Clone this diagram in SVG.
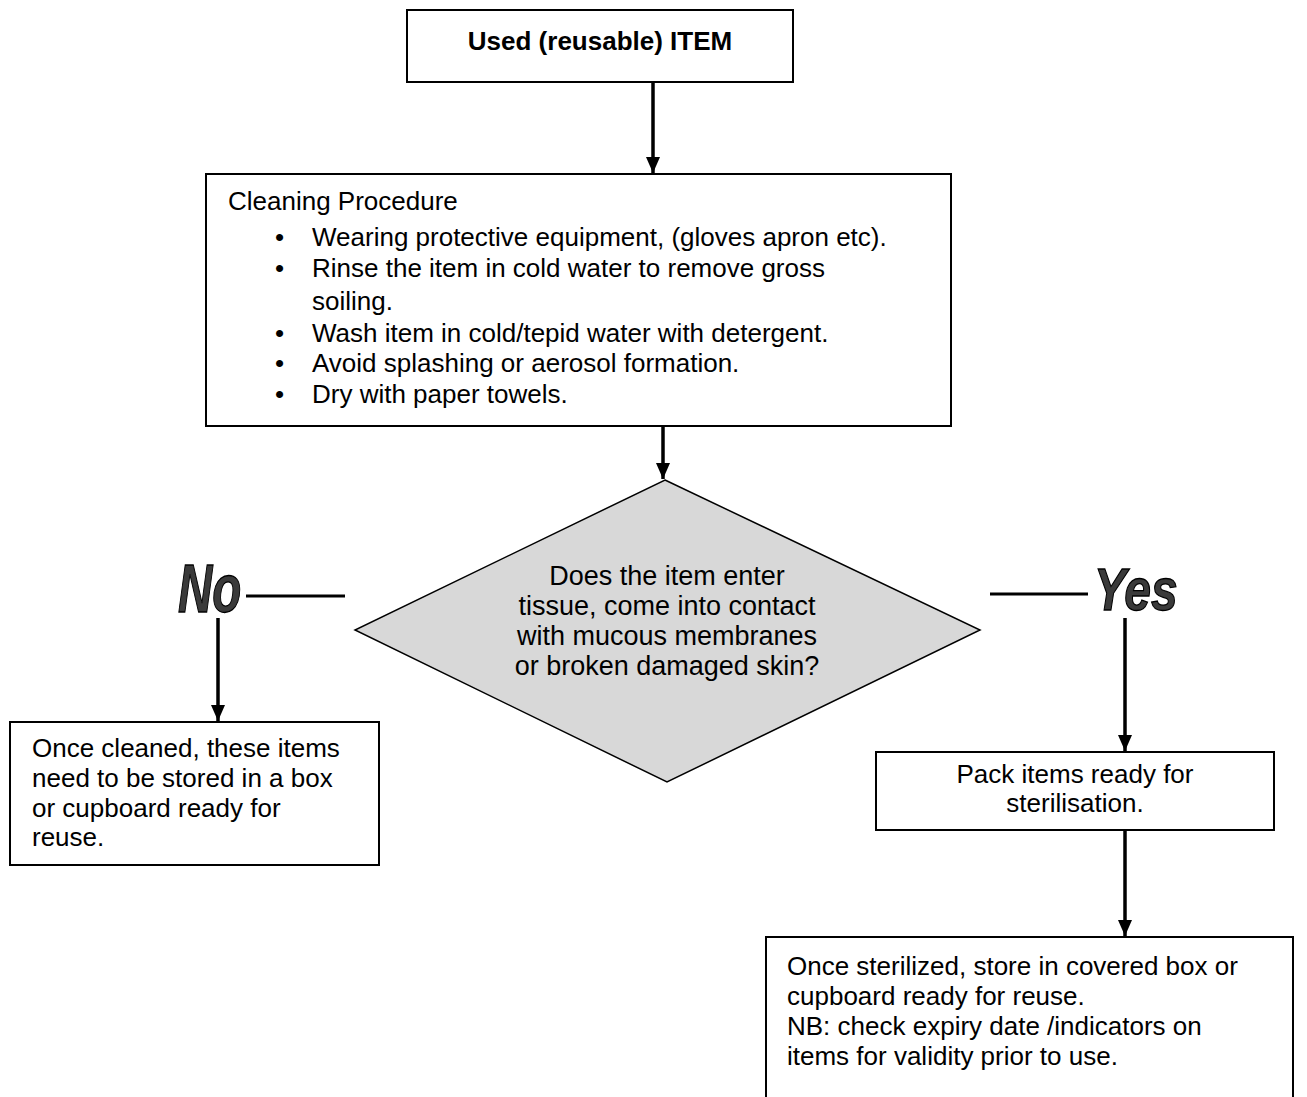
<svg xmlns="http://www.w3.org/2000/svg" width="1307" height="1097" viewBox="0 0 1307 1097">
  <defs>
    <style>
      .box { fill: #ffffff; stroke: #000000; stroke-width: 2; }
      .decision { fill: #d8d8d8; stroke: #000000; stroke-width: 1.5; }
      .txt { font-family: "Liberation Sans", Arial, sans-serif; font-size: 26px; fill: #000000; }
      .bold { font-weight: bold; }
      .mid { text-anchor: middle; }
      .q { font-size: 27px; }
      .flow { stroke: #000000; stroke-width: 3.5; fill: none; }
      .bar { stroke: #000000; stroke-width: 3; fill: none; }
      .answer { font-family: "Liberation Sans", Arial, sans-serif; font-weight: bold; font-style: italic; fill: #3a3a3a; stroke: #000000; stroke-width: 1.3; }
    </style>
    <marker id="arrow" viewBox="0 0 16 14" refX="16" refY="7" markerWidth="16" markerHeight="14" markerUnits="userSpaceOnUse" orient="auto">
      <path d="M0,0 L16,7 L0,14 z" fill="#000000"/>
    </marker>
  </defs>

  <rect width="1307" height="1097" fill="#ffffff"/>

  <!-- connectors -->
  <g id="connectors">
    <line class="flow" x1="653" y1="82" x2="653" y2="173" marker-end="url(#arrow)"/>
    <line class="flow" x1="663" y1="426" x2="663" y2="479" marker-end="url(#arrow)"/>
    <line class="bar" x1="246" y1="596" x2="345" y2="596"/>
    <line class="flow" x1="218" y1="618" x2="218" y2="721" marker-end="url(#arrow)"/>
    <line class="bar" x1="990" y1="594" x2="1088" y2="594"/>
    <line class="flow" x1="1125" y1="618" x2="1125" y2="751" marker-end="url(#arrow)"/>
    <line class="flow" x1="1125" y1="830" x2="1125" y2="936" marker-end="url(#arrow)"/>
  </g>

  <!-- start item -->
  <g id="node-used-item">
    <rect class="box" x="407" y="10" width="386" height="72"/>
    <text class="txt bold mid" x="600" y="50">Used (reusable) ITEM</text>
  </g>

  <!-- cleaning steps -->
  <g id="node-cleaning">
    <rect class="box" x="206" y="174" width="745" height="252"/>
    <text class="txt" x="228" y="210">Cleaning Procedure</text>
    <g class="txt">
      <text x="275" y="246">•</text>
      <text x="312" y="246">Wearing protective equipment, (gloves apron etc).</text>
      <text x="275" y="277">•</text>
      <text x="312" y="277">Rinse the item in cold water to remove gross</text>
      <text x="312" y="310">soiling.</text>
      <text x="275" y="342">•</text>
      <text x="312" y="342">Wash item in cold/tepid water with detergent.</text>
      <text x="275" y="372">•</text>
      <text x="312" y="372">Avoid splashing or aerosol formation.</text>
      <text x="275" y="403">•</text>
      <text x="312" y="403">Dry with paper towels.</text>
    </g>
  </g>

  <!-- decision -->
  <g id="node-decision">
    <polygon class="decision" points="665,480 980,630 667,782 355,630"/>
    <g class="txt q mid">
      <text x="667" y="585">Does the item enter</text>
      <text x="667" y="615">tissue, come into contact</text>
      <text x="667" y="645">with mucous membranes</text>
      <text x="667" y="675">or broken damaged skin?</text>
    </g>
  </g>

  <!-- branch labels -->
  <g id="label-no">
    <text class="answer" font-size="68" transform="translate(178,612) scale(0.7,1)">No</text>
  </g>
  <g id="label-yes">
    <text class="answer" font-size="60" transform="translate(1094,610) scale(0.8,1)">Yes</text>
  </g>

  <!-- no branch outcome -->
  <g id="node-store-cleaned">
    <rect class="box" x="10" y="722" width="369" height="143"/>
    <g class="txt">
      <text x="32" y="757">Once cleaned, these items</text>
      <text x="32" y="787">need to be stored in a box</text>
      <text x="32" y="817">or cupboard ready for</text>
      <text x="32" y="846">reuse.</text>
    </g>
  </g>

  <!-- yes branch -->
  <g id="node-pack">
    <rect class="box" x="876" y="752" width="398" height="78"/>
    <g class="txt mid">
      <text x="1075" y="783">Pack items ready for</text>
      <text x="1075" y="812">sterilisation.</text>
    </g>
  </g>

  <g id="node-store-sterilized">
    <rect class="box" x="766" y="937" width="527" height="180"/>
    <g class="txt">
      <text x="787" y="975">Once sterilized, store in covered box or</text>
      <text x="787" y="1005">cupboard ready for reuse.</text>
      <text x="787" y="1035">NB: check expiry date /indicators on</text>
      <text x="787" y="1065">items for validity prior to use.</text>
    </g>
  </g>
</svg>
